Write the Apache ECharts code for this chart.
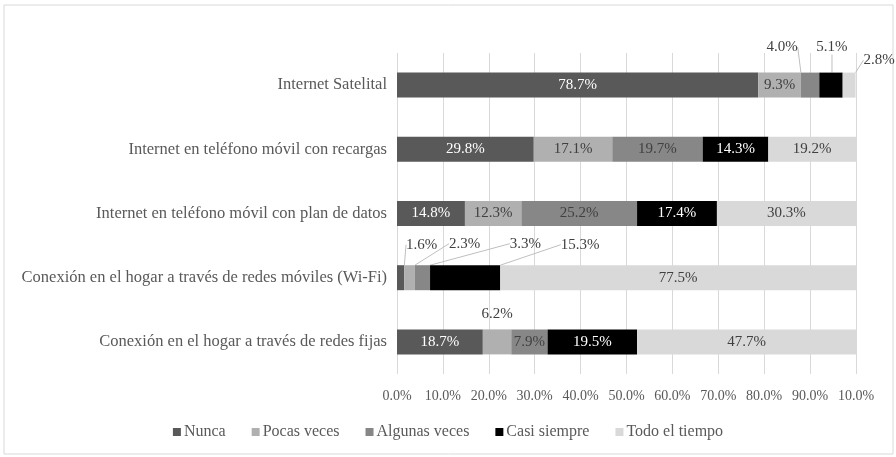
<!DOCTYPE html>
<html lang="es">
<head>
    <meta charset="UTF-8">
    <title>Frecuencia de conexión</title>
    <script src="https://cdn.jsdelivr.net/npm/echarts@6/dist/echarts.min.js"></script>
    <style>
        body { margin: 0; background: #fff; }
    </style>
</head>
<body>
    <div id="main" style="width: 896px;height:457px;"></div>
    <script>
// datos (de abajo hacia arriba, como los pinta el eje de categorías)
var categorias = [
    'Conexión en el hogar a través de redes fijas',
    'Conexión en el hogar a través de redes móviles (Wi-Fi)',
    'Internet en teléfono móvil con plan de datos',
    'Internet en teléfono móvil con recargas',
    'Internet Satelital'
];
var nombres = ['Nunca', 'Pocas veces', 'Algunas veces', 'Casi siempre', 'Todo el tiempo'];
var nunca = [18.7, 1.6, 14.8, 29.8, 78.7];
var pocasVeces = [6.2, 2.3, 12.3, 17.1, 9.3];
var algunasVeces = [7.9, 3.3, 25.2, 19.7, 4.0];
var casiSiempre = [19.5, 15.3, 17.4, 14.3, 5.1];
var todoElTiempo = [47.7, 77.5, 30.3, 19.2, 2.8];
var ticks = ['0.0%', '10.0%', '20.0%', '30.0%', '40.0%', '50.0%', '60.0%', '70.0%', '80.0%', '90.0%', '10.0%'];

var colores = ['#595959', '#b0b0b0', '#878787', '#000000', '#d9d9d9'];
var colorTexto = ['#ffffff', '#404040', '#404040', '#ffffff', '#404040'];
var fuente = '"Liberation Serif", "DejaVu Serif", serif';

// etiquetas que van fuera de la barra: serie-categoria -> [dx, dy]
var movidas = {
    '2-4': [-28, -38],
    '3-4': [1, -38],
    '4-4': [30, -25],
    '0-1': [21, -33],
    '1-1': [55, -34],
    '2-1': [103, -34],
    '3-1': [115, -33]
};

var myChart = echarts.init(document.getElementById('main'));

var valores = [nunca, pocasVeces, algunasVeces, casiSiempre, todoElTiempo];
var series = valores.map(function (arr, s) {
    return {
        name: nombres[s],
        type: 'bar',
        stack: 'total',
        barWidth: 25,
        itemStyle: { color: colores[s] },
        label: {
            show: true,
            position: 'inside',
            color: colorTexto[s],
            fontFamily: fuente,
            fontSize: 15,
            formatter: function (p) { return p.value.toFixed(1) + '%'; }
        },
        labelLayout: function (p) {
            var m = movidas[s + '-' + p.dataIndex];
            if (m) return { dx: m[0], dy: m[1] };
        },
        data: arr.map(function (v, i) {
            var d = { value: v };
            if (movidas[s + '-' + i]) {
                d.label = { color: '#404040' };
                d.labelLine = { show: true, lineStyle: { color: '#bfbfbf', width: 1 } };
            }
            // 6.2% de redes fijas va encima de la barra
            if (s === 1 && i === 0) {
                d.label = { position: 'top', distance: 8, color: '#404040' };
            }
            return d;
        })
    };
});

var option = {
    animation: false,
    textStyle: { fontFamily: fuente },
    graphic: [{
        type: 'rect',
        shape: { x: 4, y: 5, width: 889, height: 449 },
        style: { fill: 'none', stroke: '#d9d9d9', lineWidth: 1 },
        silent: true
    }],
    legend: {
        data: nombres,
        bottom: 12,
        left: 'center',
        icon: 'rect',
        itemWidth: 8,
        itemHeight: 8,
        itemGap: 26,
        textStyle: { fontFamily: fuente, fontSize: 16, color: '#595959', padding: [0, 0, 0, -2] }
    },
    grid: { left: 397, right: 40, top: 53, bottom: 83, containLabel: false },
    xAxis: {
        type: 'value',
        min: 0,
        max: 100,
        interval: 10,
        axisLine: { show: false },
        axisTick: { show: false },
        splitLine: { show: true, lineStyle: { color: '#d9d9d9', width: 1 } },
        axisLabel: {
            fontFamily: fuente,
            fontSize: 14,
            color: '#595959',
            margin: 15,
            formatter: function (v) { return ticks[Math.round(v / 10)]; }
        }
    },
    yAxis: {
        type: 'category',
        data: categorias,
        axisLine: { show: false },
        axisTick: { show: false },
        axisLabel: {
            fontFamily: fuente,
            fontSize: 16.5,
            color: '#595959',
            margin: 10
        }
    },
    series: series
};
myChart.setOption(option);
    </script>
</body>
</html>
